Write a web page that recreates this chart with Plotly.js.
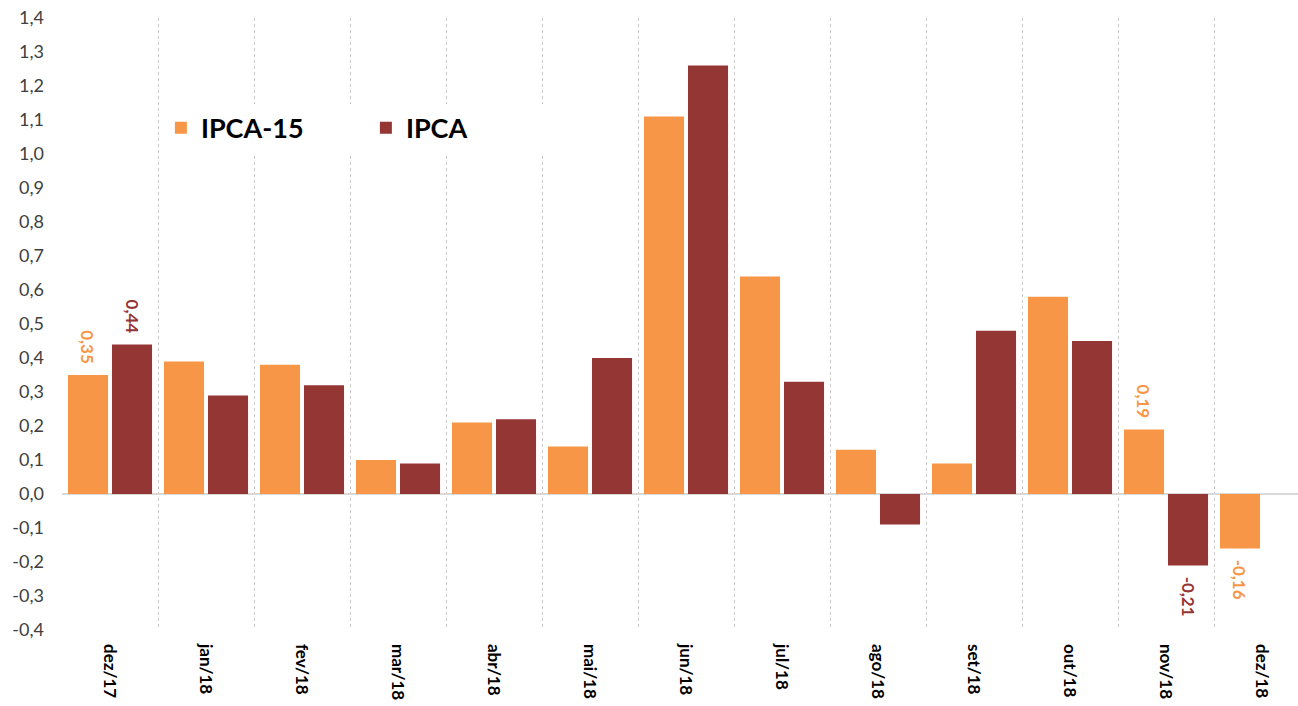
<!DOCTYPE html>
<html><head><meta charset="utf-8">
<script src="https://cdn.plot.ly/plotly-3.0.1.min.js"></script>
<style>html,body{margin:0;padding:0;background:#fff}#chart{width:1298px;height:706px}</style>
</head><body><div id="chart"></div>
<script>
const categories = ['dez/17','jan/18','fev/18','mar/18','abr/18','mai/18','jun/18','jul/18','ago/18','set/18','out/18','nov/18','dez/18'];
const ipca15 = [0.35, 0.39, 0.38, 0.10, 0.21, 0.14, 1.11, 0.64, 0.13, 0.09, 0.58, 0.19, -0.16];
const ipca   = [0.44, 0.29, 0.32, 0.09, 0.22, 0.40, 1.26, 0.33, -0.09, 0.48, 0.45, -0.21, null];
const ipca15Labels = ['0,35','','','','','','','','','','','0,19','-0,16'];
const ipcaLabels   = ['0,44','','','','','','','','','','','-0,21',''];
const yTickVals = [-0.4,-0.3,-0.2,-0.1,0,0.1,0.2,0.3,0.4,0.5,0.6,0.7,0.8,0.9,1.0,1.1,1.2,1.3,1.4];
const yTickText = ['-0,4','-0,3','-0,2','-0,1','0,0','0,1','0,2','0,3','0,4','0,5','0,6','0,7','0,8','0,9','1,0','1,1','1,2','1,3','1,4'];

const ORANGE = '#F79646', DARK = '#943634';
const FONT = 'Lato, "Open Sans", sans-serif';
const PAD = '\u00a0\u00a0';
// pad labels so they sit a little away from the bar end (text reads top-to-bottom)
function padLabels(labels, values) {
  return labels.map((t, i) => t ? (values[i] >= 0 ? t + PAD : PAD + t) : '');
}

const traces = [
  {type:'bar', name:'IPCA-15', x:categories, y:ipca15, marker:{color:ORANGE},
   text:padLabels(ipca15Labels, ipca15), textposition:'outside', textangle:90, cliponaxis:false, constraintext:'none',
   textfont:{family:FONT, size:17, color:ORANGE, weight:'bold'}, hoverinfo:'y'},
  {type:'bar', name:'IPCA', x:categories, y:ipca, marker:{color:DARK},
   text:padLabels(ipcaLabels, ipca), textposition:'outside', textangle:90, cliponaxis:false, constraintext:'none',
   textfont:{family:FONT, size:17, color:DARK, weight:'bold'}, hoverinfo:'y'}
];

const layout = {
  width:1298, height:706,
  margin:{l:62, r:0, t:18, b:76},
  paper_bgcolor:'#fff', plot_bgcolor:'#fff',
  font:{family:FONT},
  barmode:'group', bargap:0.083, bargroupgap:0.09,
  showlegend:true,
  legend:{orientation:'h', x:0.08, xanchor:'left', y:0.82, yanchor:'middle',
    bgcolor:'#ffffff', font:{family:FONT, size:27, color:'#000', weight:'bold'},
    itemwidth:30, entrywidth:160, traceorder:'normal'},
  xaxis:{type:'category', range:[-0.5, 12.375], tickson:'boundaries',
    showgrid:true, gridcolor:'#c8c8c8', griddash:'dot', gridwidth:1,
    ticks:'', tickangle:90, showline:false, zeroline:false,
    tickfont:{family:FONT, size:17, color:'#000', weight:'bold'}, ticklabelstandoff:13},
  yaxis:{range:[-0.4,1.4], tickvals:yTickVals, ticktext:yTickText,
    showgrid:false, zeroline:true, zerolinecolor:'#d9d9d9', zerolinewidth:1.5,
    showline:false, ticks:'', ticklabelstandoff:17,
    tickfont:{family:FONT, size:18, color:'#404040'}}
};

Plotly.newPlot('chart', traces, layout, {displayModeBar:false, staticPlot:true});
</script></body></html>
